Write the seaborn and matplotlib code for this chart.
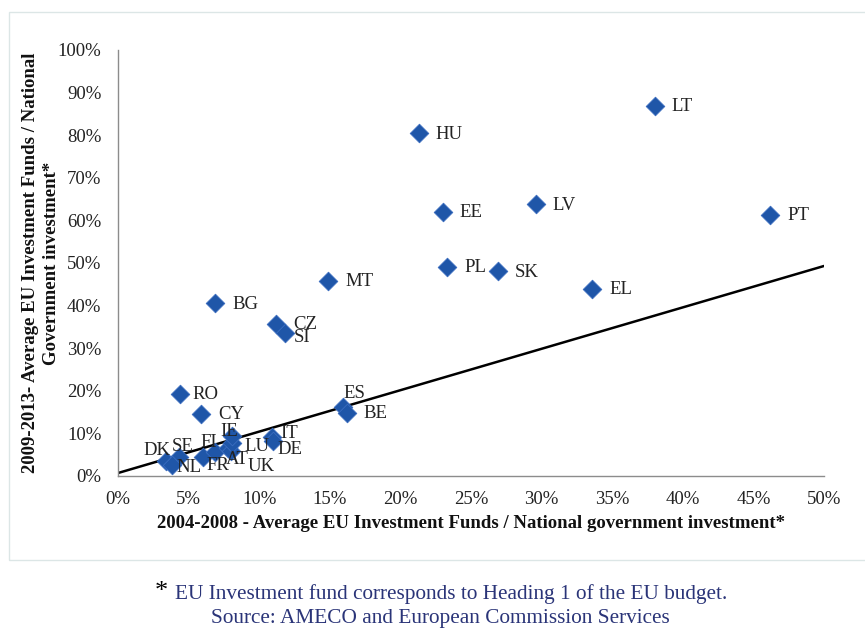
import matplotlib
matplotlib.use("Agg")
import matplotlib.pyplot as plt
import seaborn as sns
import pandas as pd
from matplotlib.ticker import PercentFormatter, MultipleLocator
from matplotlib.patches import Rectangle

# ---- data (shares, 0-1) ----
countries = ["LT", "HU", "EE", "LV", "PT", "PL", "SK", "EL", "MT", "BG",
             "CZ", "SI", "RO", "CY", "ES", "BE", "IT", "DE",
             "DK", "SE", "NL", "FR", "FI", "AT", "UK", "LU", "IE"]
x_2004_2008 = [0.380, 0.213, 0.230, 0.296, 0.462, 0.233, 0.269, 0.336, 0.149, 0.069,
               0.112, 0.118, 0.044, 0.059, 0.159, 0.162, 0.109, 0.110,
               0.034, 0.043, 0.038, 0.060, 0.069, 0.078, 0.080, 0.081, 0.081]
y_2009_2013 = [0.869, 0.805, 0.620, 0.638, 0.613, 0.491, 0.481, 0.439, 0.458, 0.406,
               0.357, 0.336, 0.192, 0.146, 0.162, 0.148, 0.092, 0.082,
               0.035, 0.045, 0.026, 0.045, 0.056, 0.066, 0.059, 0.077, 0.094]
trend_x = [0.0, 0.50]
trend_y = [0.007, 0.493]

df = pd.DataFrame({"x": x_2004_2008, "y": y_2009_2013, "c": countries})

# label offsets in pixels (dx to label left edge, dy downward)
default_off = (17, 1)
label_off = {
    "SI": (9, 5), "RO": (12, 0), "ES": (1, -13), "IT": (8, -3), "DE": (4, 8),
    "DK": (-23, -11), "SE": (-7, -10), "NL": (5, 3), "FR": (4, 9), "FI": (-15, -10),
    "AT": (-2, 12), "UK": (17, 16), "LU": (12, 3), "IE": (-12, -4),
}

W, H, DPI = 865, 630, 100
sns.set_theme(style="white")
plt.rcParams["font.family"] = ["Liberation Serif", "DejaVu Serif"]

fig = plt.figure(figsize=(W / DPI, H / DPI), dpi=DPI)
fig.patch.set_facecolor("white")
# faint outer frame
fig.patches.append(Rectangle((9 / W, 1 - 560 / H), 1.2, (560 - 12) / H,
                             transform=fig.transFigure, fill=False,
                             edgecolor="#dce6e6", linewidth=1.0))

ax = fig.add_axes([118 / W, 1 - 476 / H, (824 - 118) / W, (476 - 50) / H])
ax.set_facecolor("none")

ax.plot(trend_x, trend_y, color="black", linewidth=1.8, zorder=2)
sns.scatterplot(data=df, x="x", y="y", ax=ax, marker="D", s=90,
                color="#1f56a8", edgecolor="#3a6cc0", linewidth=0.6, zorder=3)

for c, xv, yv in zip(countries, x_2004_2008, y_2009_2013):
    dx, dy = label_off.get(c, default_off)
    ax.annotate(c, (xv, yv), xytext=(dx * 0.72, -dy * 0.72), textcoords="offset points",
                ha="left", va="center", fontsize=13.5, color="#222222", zorder=4)

ax.set_xlim(0, 0.5)
ax.set_ylim(0, 1.0)
ax.xaxis.set_major_locator(MultipleLocator(0.05))
ax.yaxis.set_major_locator(MultipleLocator(0.10))
ax.xaxis.set_major_formatter(PercentFormatter(1.0, decimals=0))
ax.yaxis.set_major_formatter(PercentFormatter(1.0, decimals=0))

for s in ["top", "right"]:
    ax.spines[s].set_visible(False)
for s in ["left", "bottom"]:
    ax.spines[s].set_color("#8c8c8c")
    ax.spines[s].set_linewidth(1.0)
ax.tick_params(axis="both", which="major", direction="out", length=5, width=1.0,
               color="#8c8c8c", labelsize=13.5, labelcolor="#222222")
ax.tick_params(axis="x", pad=6)
ax.tick_params(axis="y", pad=7)

ax.set_xlabel("2004-2008 - Average EU Investment Funds / National government investment*",
              fontsize=13.5, fontweight="bold", color="#111111", labelpad=5)
ax.set_ylabel("2009-2013- Average EU Investment Funds / National\nGovernment investment*",
              fontsize=13.5, fontweight="bold", color="#111111", labelpad=-2,
              linespacing=1.3)
ax.grid(False)

fig.text(155 / W, 1 - 592 / H, "*", fontsize=19, color="black", ha="left", va="center")
fig.text(175 / W, 1 - 594 / H, "EU Investment fund corresponds to Heading 1 of the EU budget.",
         fontsize=15.3, color="#2a3478", ha="left", va="center")
fig.text(440 / W, 1 - 618 / H, "Source: AMECO and European Commission Services",
         fontsize=15.3, color="#2a3478", ha="center", va="center")

fig.savefig("out.png", dpi=DPI, facecolor="white")
